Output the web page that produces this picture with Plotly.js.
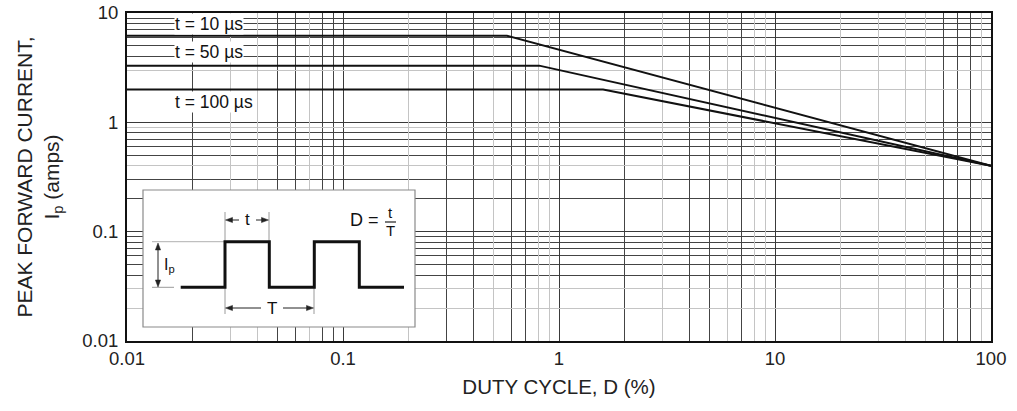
<!DOCTYPE html>
<html>
<head>
<meta charset="utf-8">
<script src="https://cdn.plot.ly/plotly-3.0.1.min.js"></script>
<style>html,body{margin:0;padding:0;background:#fff;}#chart{width:1017px;height:411px;}</style>
</head>
<body>
<div id="chart"></div>
<script>
// ---- data ----
const seriesNames = ["t = 10 \u00b5s", "t = 50 \u00b5s", "t = 100 \u00b5s"];
const duty10 = [0.01, 0.574, 100];
const current10 = [6.2, 6.2, 0.40];
const duty50 = [0.01, 0.81, 100];
const current50 = [3.3, 3.3, 0.40];
const duty100 = [0.01, 1.6, 100];
const current100 = [2.0, 2.0, 0.40];

const xTickVals = [0.01, 0.1, 1, 10, 100];
const xTickText = ["0.01", "0.1", "1", "10", "100"];
const yTickVals = [0.01, 0.1, 1, 10];
const yTickText = ["0.01", "0.1", "1", "10"];

// grid styling (dark / light lines as in the scanned datasheet grid)
const xDarkGrid = [0.02, 0.05, 0.06, 0.08, 0.09, 0.3, 0.4, 0.6, 0.7, 2, 4, 5, 7, 60, 70, 80];
const xLightGrid = [0.03, 0.04, 0.07, 0.2, 0.5, 0.8, 0.9, 3, 6, 8, 9, 20, 30, 40, 50, 90];
const yDarkGrid = [0.04, 0.05, 0.06, 0.07, 0.08, 0.09, 0.2, 0.3, 0.5, 0.6, 0.7, 0.8, 4, 5, 6, 7, 8, 9];
const yLightGrid = [0.02, 0.03, 0.4, 0.9, 2, 3];

// ---- layout geometry ----
const W = 1017, H = 411;
const M = {l: 127, r: 26, t: 13, b: 70};
const PW = W - M.l - M.r, PH = H - M.t - M.b;
const X = px => (px - M.l) / PW;
const Y = py => (H - M.b - py) / PH;

const FONT = "Liberation Sans, Arial, sans-serif";

const lineStyle = {color: "#111", width: 2};
const traces = [
  {x: duty10, y: current10, name: seriesNames[0]},
  {x: duty50, y: current50, name: seriesNames[1]},
  {x: duty100, y: current100, name: seriesNames[2]}
].map(t => Object.assign(t, {type: "scatter", mode: "lines", line: lineStyle, hoverinfo: "skip"}));
// invisible trace that only makes the light-grid overlay axes exist
traces.unshift({x: [xTickVals[0]], y: [yTickVals[0]], xaxis: "x2", yaxis: "y2", type: "scatter",
  mode: "markers", marker: {opacity: 0, size: 1}, hoverinfo: "skip", showlegend: false});

// ---- inset diagram ----
const shapes = [];
const annotations = [];
function pline(x0, y0, x1, y1, color, width) {
  shapes.push({type: "line", xref: "paper", yref: "paper", x0: X(x0), y0: Y(y0), x1: X(x1), y1: Y(y1),
    line: {color: color, width: width}});
}
function ppath(pts, color, width, fill) {
  const d = pts.map((p, i) => (i ? "L" : "M") + X(p[0]).toFixed(5) + "," + Y(p[1]).toFixed(5)).join(" ") + (fill ? " Z" : "");
  const s = {type: "path", xref: "paper", yref: "paper", path: d, line: {color: color, width: width}};
  if (fill) s.fillcolor = fill;
  shapes.push(s);
}
function head(x, y, dx, dy) {
  const L = 7, w = 2.6;
  const bx = x - dx * L, by = y - dy * L;
  ppath([[x, y], [bx - dy * w, by + dx * w], [bx + dy * w, by - dx * w]], "#222", 0.5, "#222");
}
function ptext(txt, x, y, size, xanchor) {
  annotations.push({text: txt, xref: "paper", yref: "paper", x: X(x), y: Y(y), showarrow: false,
    xanchor: xanchor || "center", yanchor: "middle", font: {family: FONT, size: size, color: "#111"}});
}

// inset frame
shapes.push({type: "rect", xref: "paper", yref: "paper", x0: X(143), x1: X(415), y0: Y(327), y1: Y(190),
  fillcolor: "#fff", line: {color: "#8a8a8a", width: 1.2}});
// extension lines
pline(225, 212, 225, 241, "#9a9a9a", 1);
pline(269, 212, 269, 241, "#9a9a9a", 1);
pline(225, 288, 225, 314, "#9a9a9a", 1);
pline(314, 288, 314, 314, "#9a9a9a", 1);
pline(152, 241.7, 224, 241.7, "#b0b0b0", 1);
pline(152, 287.3, 174, 287.3, "#9a9a9a", 1);
// waveform
ppath([[180.7, 287.3], [225, 287.3], [225, 241.7], [269.3, 241.7], [269.3, 287.3], [314.3, 287.3],
  [314.3, 241.7], [359.3, 241.7], [359.3, 287.3], [404, 287.3]], "#111", 3);
// t dimension
pline(229, 220, 239, 220, "#222", 1);
pline(256, 220, 265, 220, "#222", 1);
head(225.5, 220, -1, 0);
head(268.5, 220, 1, 0);
ptext("t", 247, 219, 17);
// T dimension
pline(229, 308, 261, 308, "#222", 1);
pline(283, 308, 310, 308, "#222", 1);
head(225.5, 308, -1, 0);
head(313.5, 308, 1, 0);
ptext("T", 271.5, 308, 17);
// Ip dimension
pline(158, 248, 158, 283, "#222", 1);
head(158, 243, 0, -1);
head(158, 287, 0, 1);
ptext("I<sub>p</sub>", 162, 265, 16, "left");
// D = t / T
ptext("D =", 364, 220, 18);
ptext("t", 390.5, 212, 15);
pline(385, 222, 396, 222, "#222", 1.2);
ptext("T", 390.5, 231, 15);

// curve labels (white background so grid lines stop at the text)
function label(txt, x, y) {
  annotations.push({text: txt, xref: "paper", yref: "paper", x: X(x), y: Y(y), showarrow: false,
    xanchor: "left", yanchor: "middle", bgcolor: "#fff", borderpad: 0,
    font: {family: FONT, size: 17.5, color: "#111"}});
}
label(seriesNames[0], 174, 24);
label(seriesNames[1], 174, 52);
label(seriesNames[2], 174, 102);

const gridAxis = {
  showline: false, zeroline: false, fixedrange: true, showticklabels: false, ticks: "",
  showgrid: true, gridcolor: "#c4c4c4", gridwidth: 1, tickmode: "array"
};

const layout = {
  width: W, height: H,
  margin: M,
  paper_bgcolor: "#fff", plot_bgcolor: "#fff",
  showlegend: false,
  font: {family: FONT, size: 18, color: "#222"},
  xaxis: {
    type: "log", range: [-2, 2],
    tickmode: "array", tickvals: xTickVals, ticktext: xTickText,
    ticks: "", ticklabelstandoff: 0,
    showgrid: true, gridcolor: "#3a3a3a", gridwidth: 1,
    minor: {tickmode: "array", tickvals: xDarkGrid, showgrid: true, gridcolor: "#444", gridwidth: 1, ticks: ""},
    showline: true, mirror: true, linecolor: "#111", linewidth: 2,
    zeroline: false, fixedrange: true,
    tickfont: {family: FONT, size: 18.5, color: "#222"},
    title: {text: "DUTY CYCLE, D (%)", standoff: 11, font: {family: FONT, size: 20.5, color: "#222"}}
  },
  yaxis: {
    type: "log", range: [-2, 1],
    tickmode: "array", tickvals: yTickVals, ticktext: yTickText,
    ticks: "", ticklabelstandoff: 3,
    showgrid: true, gridcolor: "#3a3a3a", gridwidth: 1,
    minor: {tickmode: "array", tickvals: yDarkGrid, showgrid: true, gridcolor: "#444", gridwidth: 1, ticks: ""},
    showline: true, mirror: true, linecolor: "#111", linewidth: 2,
    zeroline: false, fixedrange: true,
    tickfont: {family: FONT, size: 18.5, color: "#222"},
    title: {text: "PEAK FORWARD CURRENT,<br>I<sub>p</sub> (amps)", standoff: 17, font: {family: FONT, size: 21, color: "#222"}}
  },
  xaxis2: Object.assign({type: "log", range: [-2, 2], overlaying: "x", anchor: "y2", tickvals: xLightGrid}, gridAxis),
  yaxis2: Object.assign({type: "log", range: [-2, 1], overlaying: "y", anchor: "x2", tickvals: yLightGrid}, gridAxis),
  shapes: shapes,
  annotations: annotations
};

Plotly.newPlot("chart", traces, layout, {displayModeBar: false, staticPlot: true});
</script>
</body>
</html>
